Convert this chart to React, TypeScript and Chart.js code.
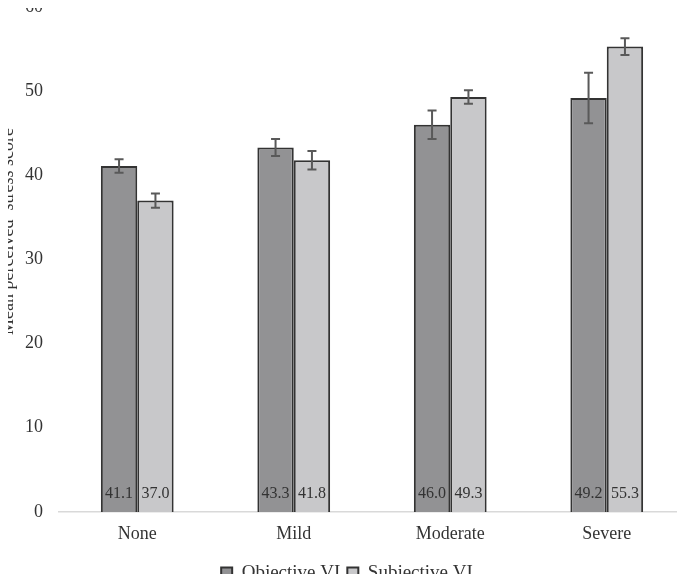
import React, { useEffect, useRef } from "react";
import { Chart, registerables } from "chart.js";

Chart.register(...registerables);

const categories = ["None", "Mild", "Moderate", "Severe"];
const objectiveVI = [41.1, 43.3, 46.0, 49.2];
const subjectiveVI = [37.0, 41.8, 49.3, 55.3];
const objectiveErr = [0.8, 1.0, 1.7, 3.0];
const subjectiveErr = [0.85, 1.1, 0.8, 1.0];
const yTicks = [0, 10, 20, 30, 40, 50, 60];
const yTitle = "Mean perceived  stress score";

const FONT = "'Liberation Serif', 'Times New Roman', serif";
const TEXT = "#333333";

const errorAndLabelPlugin = {
  id: "errAndLabels",
  afterDatasetsDraw(chart: any) {
    const ctx = chart.ctx;
    const yScale = chart.scales.y;
    const errs = [objectiveErr, subjectiveErr];
    chart.data.datasets.forEach((ds: any, di: number) => {
      const meta = chart.getDatasetMeta(di);
      meta.data.forEach((bar: any, i: number) => {
        const v = ds.data[i];
        const e = errs[di][i];
        const x = bar.x;
        const yTop = yScale.getPixelForValue(v + e);
        const yBot = yScale.getPixelForValue(v - e);
        ctx.save();
        ctx.strokeStyle = "#595959";
        ctx.lineWidth = 2;
        ctx.beginPath();
        ctx.moveTo(x, yTop);
        ctx.lineTo(x, yBot);
        ctx.moveTo(x - 4.5, yTop);
        ctx.lineTo(x + 4.5, yTop);
        ctx.moveTo(x - 4.5, yBot);
        ctx.lineTo(x + 4.5, yBot);
        ctx.stroke();
        ctx.fillStyle = TEXT;
        ctx.font = `16px ${FONT}`;
        ctx.textAlign = "center";
        ctx.textBaseline = "middle";
        ctx.fillText(v.toFixed(1), x, yScale.getPixelForValue(0) - 18);
        ctx.restore();
      });
    });
  },
  afterDraw(chart: any) {
    const ctx = chart.ctx;
    const area = chart.chartArea;
    ctx.save();
    ctx.translate(13, (area.top + area.bottom) / 2 - 28);
    ctx.rotate(-Math.PI / 2);
    ctx.fillStyle = TEXT;
    ctx.font = `18px ${FONT}`;
    ctx.textAlign = "center";
    ctx.textBaseline = "alphabetic";
    ctx.fillText(yTitle, 0, 0);
    ctx.restore();
  },
};

export default function App() {
  const ref = useRef<HTMLCanvasElement>(null);
  useEffect(() => {
    if (!ref.current) return;
    const chart = new Chart(ref.current, {
      type: "bar",
      data: {
        labels: categories,
        datasets: [
          {
            label: "Objective VI",
            data: objectiveVI,
            backgroundColor: "#929294",
            borderColor: "#333333",
            borderWidth: 2,
            categoryPercentage: 0.465,
            barPercentage: 1,
          },
          {
            label: "Subjective VI",
            data: subjectiveVI,
            backgroundColor: "#c8c8ca",
            borderColor: "#333333",
            borderWidth: 2,
            categoryPercentage: 0.465,
            barPercentage: 1,
          },
        ],
      },
      options: {
        animation: false,
        responsive: false,
        layout: { padding: { left: 9, right: 0, top: 7, bottom: -10.5 } },
        plugins: {
          legend: {
            position: "bottom",
            labels: {
              font: { family: FONT, size: 19 },
              color: TEXT,
              boxWidth: 11,
              boxHeight: 11,
              padding: 7,
            },
          },
          tooltip: { enabled: false },
        },
        scales: {
          x: {
            grid: { display: false, drawTicks: false },
            border: { display: true, color: "#d9d9d9", width: 1.5 },
            ticks: { font: { family: FONT, size: 18 }, color: TEXT, padding: 11.5 },
          },
          y: {
            min: 0,
            max: 60,
            afterBuildTicks: (s: any) => {
              s.ticks = yTicks.map((v) => ({ value: v }));
            },
            afterFit: (s: any) => {
              s.paddingTop = 0;
              s.paddingBottom = 0;
            },
            grid: { display: false, drawTicks: false },
            border: { display: false },
            ticks: { font: { family: FONT, size: 18 }, color: TEXT, padding: 16 },
          },
        },
      },
      plugins: [errorAndLabelPlugin],
    });
    return () => chart.destroy();
  }, []);
  return (
    <div style={{ margin: -8 }}>
      <canvas ref={ref} width={685} height={582} style={{ display: "block" }} />
    </div>
  );
}
